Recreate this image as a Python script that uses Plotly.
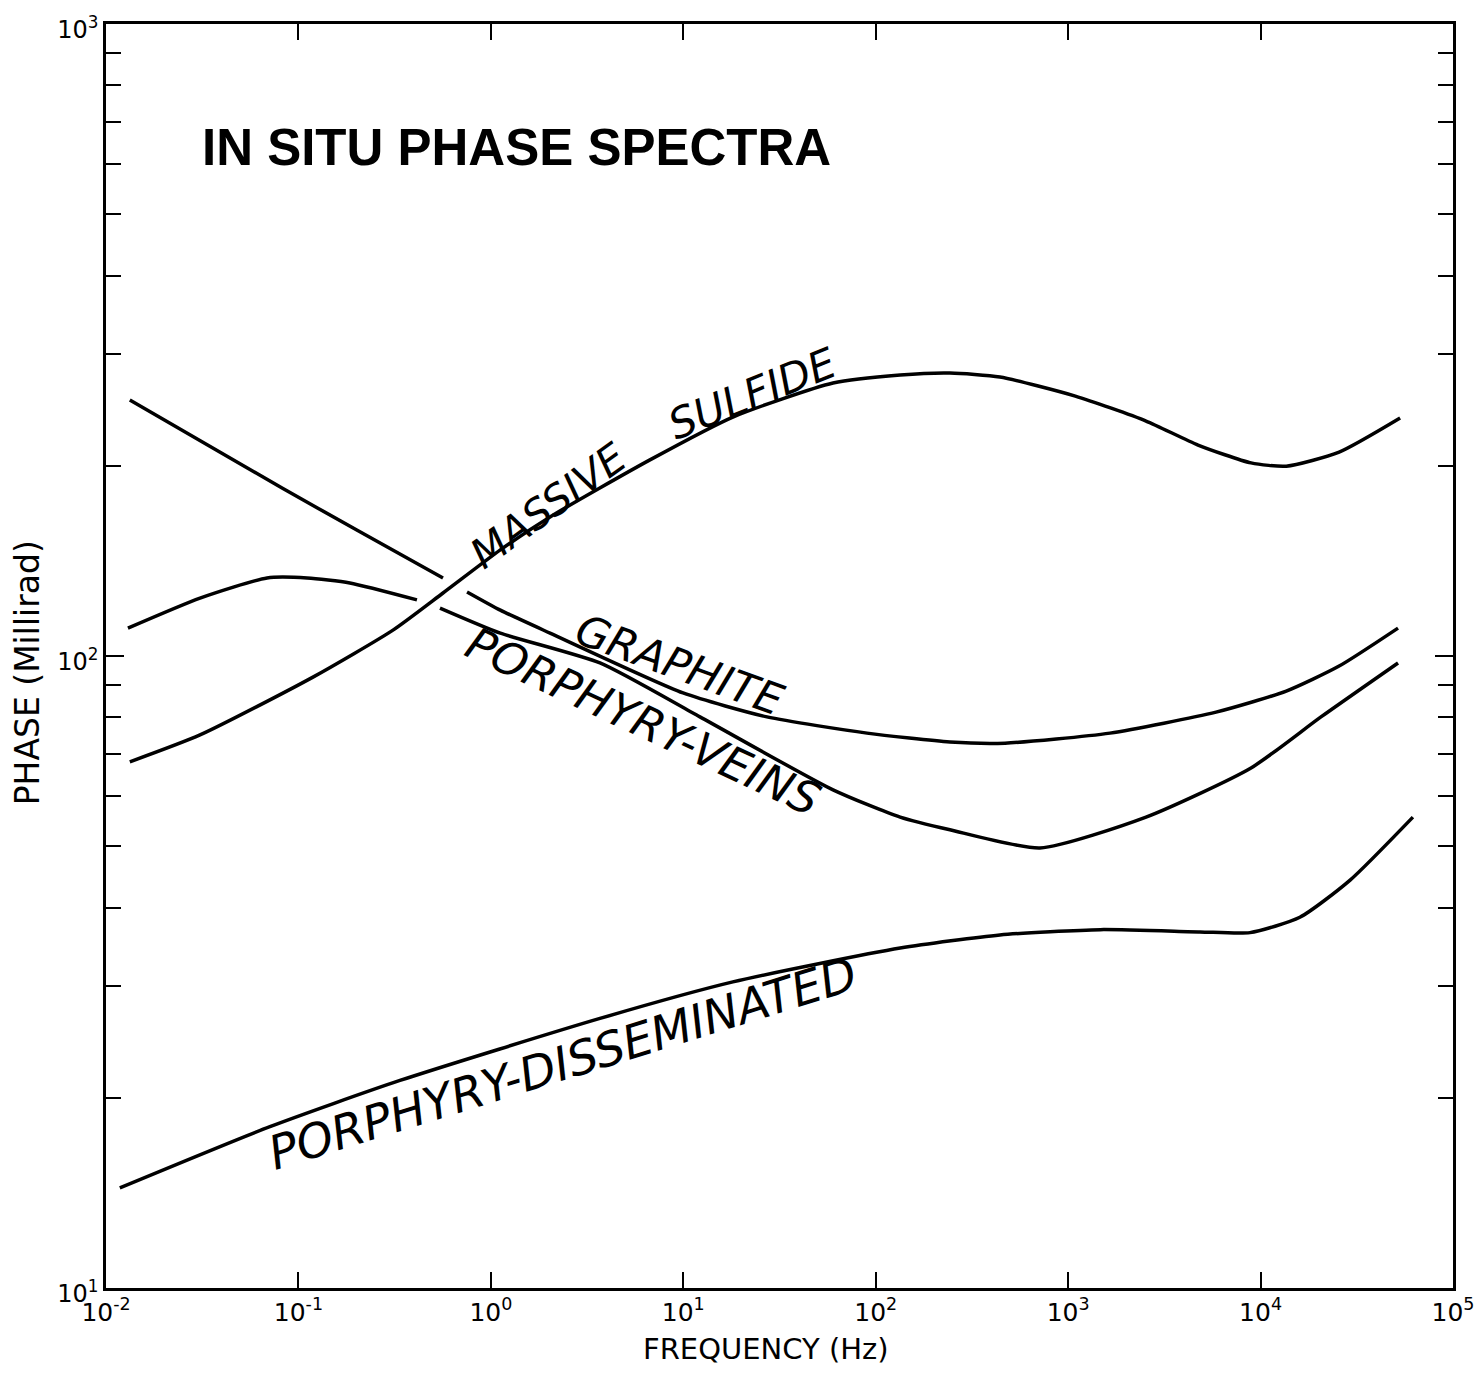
import plotly.graph_objects as go

# ---- data (frequency in Hz, phase in milliradians) ----
ms_freq = [0.0133, 0.0308, 0.119, 0.31, 0.564, 1.12, 2.03, 6.71, 18.1, 60.0,
           134, 243, 442, 1090, 2540, 4730, 8920, 13600, 25600, 53100]
ms_phase = [68.0, 75.0, 92.6, 109.9, 125.8, 147.2, 166.0, 204.3, 238.8, 270.4,
            278.4, 280.4, 276.3, 257.8, 235.4, 215.7, 202.1, 199.7, 210.2, 238.0]

gr_freq = [0.0133, 0.0822, 0.201, 0.564, None, 0.752, 1.12, 2.03, 9.97, 27.2,
           90.1, 243, 470, 1650, 5870, 13600, 25600, 51800]
gr_phase = [254.1, 184.4, 158.3, 132.9, None, 126.3, 118.2, 108.7, 87.4, 80.1,
            75.5, 73.1, 72.8, 75.5, 81.5, 88.0, 96.4, 110.7]

pv_freq = [0.0130, 0.0308, 0.0687, 0.111, 0.185, 0.413, None, 0.544, 1.12, 3.69,
           12.2, 60.0, 134, 243, 714, 2540, 8920, 20600, 51800]
pv_phase = [110.7, 123.5, 132.9, 132.9, 130.5, 122.7, None, 119.1, 108.7, 97.5,
            80.1, 61.4, 55.6, 53.1, 49.7, 55.6, 66.5, 80.1, 97.5]

pd_freq = [0.0118, 0.0711, 0.337, 3.69, 18.1, 134, 442, 1470, 4840, 8810,
           16000, 29200, 61900]
pd_phase = [14.4, 18.0, 21.3, 26.7, 30.5, 34.5, 36.2, 36.9, 36.6, 36.5,
            38.6, 44.2, 55.6]

x_tick_vals = [0.01, 0.1, 1, 10, 100, 1000, 10000, 100000]
x_tick_text = ["10<sup>-2</sup>", "10<sup>-1</sup>", "10<sup>0</sup>", "10<sup>1</sup>",
               "10<sup>2</sup>", "10<sup>3</sup>", "10<sup>4</sup>", "10<sup>5</sup>"]
y_tick_vals = [10, 100, 1000]
y_tick_text = ["10<sup>1</sup>", "10<sup>2</sup>", "10<sup>3</sup>"]
y_minor_vals = [20, 30, 40, 50, 60, 70, 80, 90, 200, 300, 400, 500, 600, 700, 800, 900]

title_text = "IN SITU PHASE SPECTRA"
x_title = "FREQUENCY (Hz)"
y_title = "PHASE (Millirad)"

# ---- figure ----
fig = go.Figure()
line_style = dict(color="black", width=3.5, shape="spline", smoothing=0.6)
for fx, py in [(ms_freq, ms_phase), (gr_freq, gr_phase), (pv_freq, pv_phase), (pd_freq, pd_phase)]:
    fig.add_trace(go.Scatter(x=fx, y=py, mode="lines", line=line_style,
                             connectgaps=False, showlegend=False, hoverinfo="x+y"))

tick_font = dict(family="DejaVu Sans", size=25, color="black")
fig.update_xaxes(type="log", range=[-2, 5], tickmode="array", tickvals=x_tick_vals,
                 ticktext=x_tick_text, ticks="inside", ticklen=16, tickwidth=2,
                 tickcolor="black", showline=True, linewidth=2.5, linecolor="black",
                 mirror="ticks", showgrid=False, zeroline=False, tickfont=tick_font,
                 automargin=False, ticklabeloverflow="allow")
fig.update_yaxes(type="log", range=[1, 3], tickmode="array", tickvals=y_tick_vals,
                 ticktext=y_tick_text, ticks="inside", ticklen=18, tickwidth=2,
                 tickcolor="black", showline=True, linewidth=2.5, linecolor="black",
                 mirror="ticks", showgrid=False, zeroline=False,
                 tickfont=dict(family="DejaVu Sans", size=24, color="black"),
                 automargin=False, ticklabeloverflow="allow", ticklabelshift=6,
                 minor=dict(ticks="inside", ticklen=15, tickwidth=2, tickcolor="black",
                            tickmode="array", tickvals=y_minor_vals, showgrid=False))

curve_labels = [
    ("MASSIVE", 0.297, 2.238, -36, 41),
    ("SULFIDE", 1.362, 2.416, -22, 42),
    ("GRAPHITE", 0.983, 1.986, 20, 43),
    ("PORPHYRY-VEINS", 0.790, 1.896, 25, 45),
    ("PORPHYRY-DISSEMINATED", 0.370, 1.356, -17.3, 47),
]
annotations = []
for txt, ax_, ay_, ang, fs in curve_labels:
    annotations.append(dict(text="<i>" + txt + "</i>", x=ax_, y=ay_, xref="x", yref="y",
                            showarrow=False, textangle=ang,
                            font=dict(family="DejaVu Sans", size=fs, color="black"),
                            xanchor="center", yanchor="middle"))
annotations.append(dict(text="<b>" + title_text + "</b>", x=0.305, y=0.902, xref="paper",
                        yref="paper", showarrow=False, xanchor="center", yanchor="middle",
                        font=dict(family="Liberation Sans", size=51, color="black")))
annotations.append(dict(text=x_title, x=0.49, y=-0.0483, xref="paper", yref="paper",
                        showarrow=False, xanchor="center", yanchor="middle",
                        font=dict(family="DejaVu Sans", size=29, color="black")))
annotations.append(dict(text=y_title, x=-0.058, y=0.487, xref="paper", yref="paper",
                        showarrow=False, xanchor="center", yanchor="middle", textangle=-90,
                        font=dict(family="DejaVu Sans", size=33, color="black")))

# page body has an 8px margin; size and margins compensate so the plot box sits at
# x 106..1453, y 24..1288 in the browser window
fig.update_layout(width=1467, height=1360, margin=dict(l=98, r=22, t=16, b=80),
                  paper_bgcolor="white", plot_bgcolor="white", annotations=annotations)

fig.write_html("out.html")
